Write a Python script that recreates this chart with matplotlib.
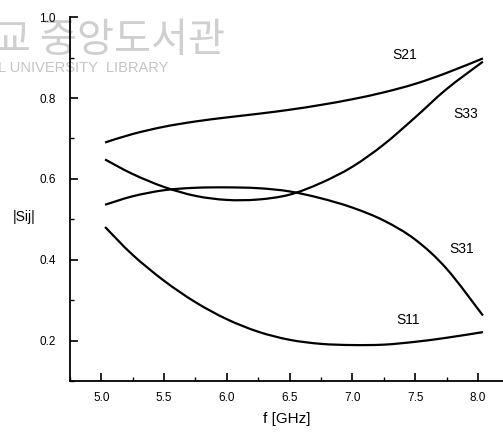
import numpy as np
import matplotlib
matplotlib.use("Agg")
from matplotlib import pyplot as plt
from matplotlib.path import Path
from matplotlib.patches import PathPatch
from matplotlib.ticker import MultipleLocator

# frequency points (GHz)
freq = [5.03, 5.25, 5.5, 5.75, 6.0, 6.25, 6.5, 6.75, 7.0, 7.25, 7.5, 7.75, 8.04]

# |Sij| magnitudes
s21 = [0.690, 0.711, 0.729, 0.742, 0.752, 0.761, 0.771, 0.783, 0.797, 0.814, 0.835, 0.862, 0.898]
s33 = [0.648, 0.612, 0.580, 0.558, 0.548, 0.549, 0.561, 0.590, 0.630, 0.685, 0.752, 0.822, 0.890]
s31 = [0.536, 0.557, 0.572, 0.578, 0.579, 0.577, 0.569, 0.552, 0.529, 0.497, 0.450, 0.378, 0.262]
s11 = [0.481, 0.412, 0.348, 0.295, 0.253, 0.222, 0.202, 0.192, 0.189, 0.190, 0.197, 0.207, 0.221]

curve_names = ["S21", "S33", "S31", "S11"]
label_pos = [(7.42, 0.906), (7.90, 0.760), (7.87, 0.427), (7.44, 0.252)]

xticks = [5.0, 5.5, 6.0, 6.5, 7.0, 7.5, 8.0]
yticks = [0.2, 0.4, 0.6, 0.8, 1.0]


def smooth_path(x, y):
    # Catmull-Rom through the points, written as cubic Bezier segments
    pts = np.column_stack([x, y])
    ext = np.vstack([pts[0], pts, pts[-1]])
    verts = [pts[0]]
    codes = [Path.MOVETO]
    for i in range(1, len(ext) - 2):
        p0, p1, p2, p3 = ext[i - 1], ext[i], ext[i + 1], ext[i + 2]
        verts += [p1 + (p2 - p0) / 6, p2 - (p3 - p1) / 6, p2]
        codes += [Path.CURVE4] * 3
    return Path(verts, codes)


plt.rcParams['font.family'] = ['Liberation Sans', 'DejaVu Sans']

fig = plt.figure(figsize=(5.03, 4.4), dpi=100)

# library stamp in the top left corner
fig.text(-0.012, 0.955, "교 중앙도서관", family=['Noto Sans CJK KR'], fontsize=29,
         color='#cfcfcf', ha='left', va='top', zorder=-1)
fig.text(-0.004, 0.862, "L UNIVERSITY  LIBRARY", fontsize=10.5,
         color='#c4c4c4', ha='left', va='top', zorder=-1)

ax = fig.add_axes([0.139, 0.134, 0.861, 0.827])
ax.patch.set_visible(False)

for vals in [s21, s33, s31, s11]:
    ax.add_patch(PathPatch(smooth_path(freq, vals), facecolor='none',
                           edgecolor='black', lw=1.6))

for name, (lx, ly) in zip(curve_names, label_pos):
    ax.text(lx, ly, name, fontsize=10, ha='center', va='center')

ax.set_xlim(4.75, 8.2)
ax.set_ylim(0.1, 1.0)
ax.spines['top'].set_visible(False)
ax.spines['right'].set_visible(False)
ax.spines['left'].set_linewidth(1.3)
ax.spines['bottom'].set_linewidth(1.3)

ax.set_xticks(xticks)
ax.set_xticklabels(["%.1f" % v for v in xticks])
ax.set_yticks(yticks)
ax.set_yticklabels(["%.1f" % v for v in yticks])
ax.xaxis.set_minor_locator(MultipleLocator(0.25))
ax.yaxis.set_minor_locator(MultipleLocator(0.1))
ax.tick_params(which='major', direction='in', length=6, width=1.2,
               labelsize=8.5, pad=8)
ax.tick_params(which='minor', direction='in', length=3, width=1.0)
ax.tick_params(axis='y', which='major', pad=10)

ax.set_xlabel("f [GHz]", fontsize=11, labelpad=6)
fig.text(0.048, 0.507, "|Sij|", fontsize=10, ha='center', va='center')

plt.savefig("out.png", dpi=100)
